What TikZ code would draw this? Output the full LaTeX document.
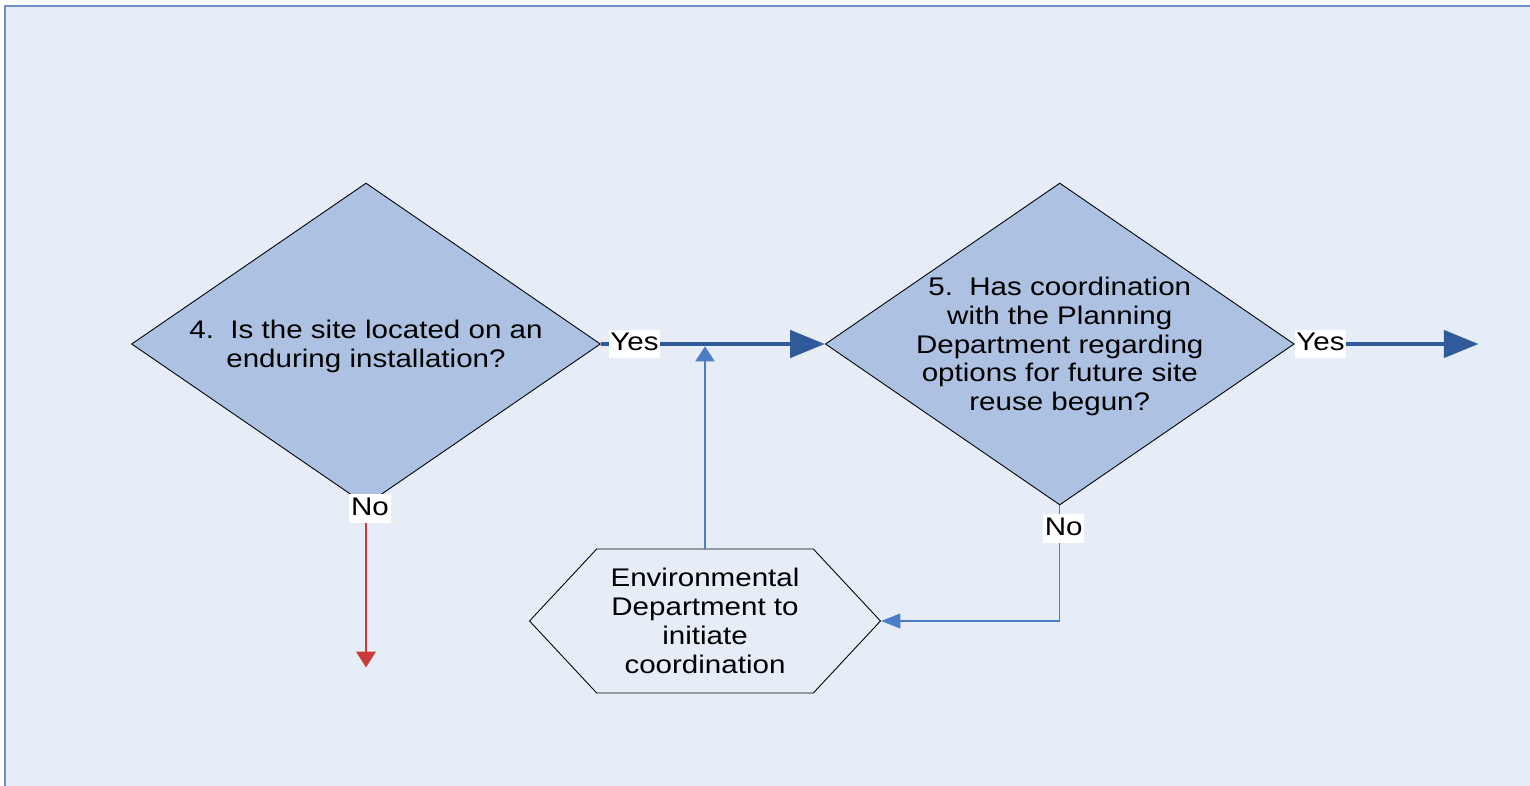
\documentclass[tikz,border=0pt]{standalone}
\usepackage{fontspec}
\setmainfont{Liberation Sans}[FakeStretch=1.16]
\usetikzlibrary{arrows.meta,positioning,shapes.geometric,shapes.symbols}
\definecolor{page_blue}{HTML}{E6EDF7}
\definecolor{frame_blue}{HTML}{7090C8}
\definecolor{shape_blue}{HTML}{ADC2E3}
\definecolor{flow_blue}{HTML}{2F5B9B}
\definecolor{link_blue}{HTML}{4A7DC6}
\definecolor{stop_red}{HTML}{CC3B3B}
\tikzset{
decision_box/.style={
	% The shape:
	diamond,
	% The size:
	minimum width=9.38cm,
	minimum height=6.44cm,
	inner sep=0pt,
	% The border:
	draw=black,
	line width=0.5pt,
	% The filling:
	fill=shape_blue
},
action_box/.style={
	% The shape:
	signal,
	signal to=east and west,
	signal pointer angle=94,
	% The size:
	minimum width=7.02cm,
	minimum height=2.88cm,
	inner sep=0pt,
	% The border:
	draw=black,
	line width=0.5pt,
	% The filling:
	fill=page_blue,
	% The text:
	align=center
},
box_text/.style={align=center, yshift=-0.05cm},
flow_label/.style={fill=white, inner xsep=1pt, inner ysep=2pt, text depth=0.25em},
no_label/.style={flow_label, xshift=0.08cm},
yes_arrow/.style={draw=flow_blue, line width=2.8pt,
	-{Triangle[length=19.8pt, width=15.3pt]}},
link_arrow/.style={draw=link_blue, line width=0.6pt,
	-{Triangle[length=11pt, width=8.5pt]}},
no_arrow/.style={draw=stop_red, line width=0.6pt,
	-{Triangle[length=9pt, width=11.3pt]}}
}
\begin{document}
\begin{tikzpicture}[x=0.02cm, y=-0.02cm,
		font=\fontsize{14.5pt}{16.4pt}\selectfont]
	\useasboundingbox (0,0) rectangle (1530,786);
	% page
	\fill[page_blue] (5,6) rectangle (1530,786);
	\draw[frame_blue, line width=0.7pt] (5,786) |- (1530,6);

	% decisions
	\node[decision_box,
		label={[box_text]center:{4.\ \ Is the site located on an\\enduring installation?}}]
		(d1) at (366,344) {};
	\node[decision_box, right=4.48cm of d1,
		label={[box_text]center:{5.\ \ Has coordination\\with the Planning\\Department regarding\\options for future site\\reuse begun?}}]
		(d2) {};
	% action
	\node[action_box] (hex) at (705,621)
		{Environmental\\Department to\\initiate\\coordination};

	\coordinate[right=3.68cm of d2.east] (d2_out);
	\coordinate[below=3.24cm of d1.south] (d1_out);

	% connectors
	\draw[yes_arrow] (d1.east) -- node[flow_label, pos=0.15] {Yes} (d2.west);
	\draw[yes_arrow] (d2.east) -- node[flow_label, pos=0.14] {Yes} (d2_out);
	\draw[no_arrow] (d1.south) -- node[no_label, pos=0.02] {No} (d1_out);
	\draw[link_arrow] (d2.south) |- node[no_label, pos=0.1] {No} (hex.east);
	\draw[link_arrow, -{Triangle[length=8.5pt, width=11pt]}, shorten >=1.4pt]
		(hex.north) -- (hex.north |- d1.east);
\end{tikzpicture}
\end{document}
